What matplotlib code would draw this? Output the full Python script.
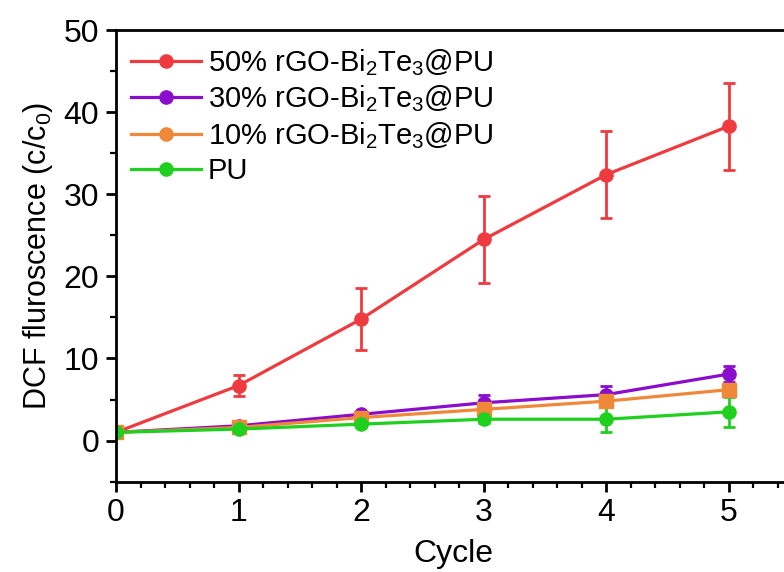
import matplotlib
matplotlib.use('Agg')
from matplotlib import pyplot as plt
from matplotlib.lines import Line2D

plt.rcParams['font.family'] = ['Liberation Sans', 'DejaVu Sans']
plt.rcParams['mathtext.fontset'] = 'custom'
plt.rcParams['mathtext.rm'] = 'Liberation Sans'
plt.rcParams['mathtext.it'] = 'Liberation Sans:italic'

cycles = [0, 1, 2, 3, 4, 5]

labels = ['50% rGO-Bi$_2$Te$_3$@PU', '30% rGO-Bi$_2$Te$_3$@PU',
          '10% rGO-Bi$_2$Te$_3$@PU', 'PU']
colors = ['#ef3b3f', '#8a0ccc', '#f0883a', '#1fd01f']
markers = ['o', 'o', 's', 'o']

rgo50 = [1.0, 6.7, 14.8, 24.5, 32.4, 38.3]
rgo50_err = [0.0, 1.3, 3.8, 5.3, 5.3, 5.3]
rgo30 = [1.0, 1.8, 3.2, 4.6, 5.6, 8.1]
rgo30_err = [0.0, 0.2, 0.3, 0.9, 1.0, 1.0]
rgo10 = [1.0, 1.6, 2.8, 3.8, 4.8, 6.2]
rgo10_err = [0.0, 0.2, 0.3, 0.5, 0.6, 0.6]
pu = [1.0, 1.4, 2.0, 2.6, 2.6, 3.5]
pu_err = [0.0, 0.2, 0.3, 0.5, 1.5, 1.8]

series = [(rgo50, rgo50_err), (rgo30, rgo30_err), (rgo10, rgo10_err), (pu, pu_err)]

fig = plt.figure(figsize=(7.84, 5.72), dpi=100)
ax = fig.add_axes([0.148, 0.158, 0.86, 0.7895])

for (y, e), c, m in zip(series, colors, markers):
    ax.errorbar(cycles, y, yerr=e, color=c, marker=m, markersize=9.5,
                linewidth=2.3, elinewidth=2, capsize=4, capthick=2)

ax.set_xlim(0, 5.5)
ax.set_ylim(-5, 50)
ax.set_xticks([0, 1, 2, 3, 4, 5])
ax.set_yticks([0, 10, 20, 30, 40, 50])
ax.set_xticks([i * 0.2 for i in range(28)], minor=True)
ax.set_yticks([-5, 5, 15, 25, 35, 45], minor=True)
ax.tick_params(which='major', direction='out', length=7, width=2, labelsize=23, pad=5)
ax.tick_params(which='minor', direction='out', length=4, width=1.6)
ax.tick_params(top=False, right=False, which='both')
for s in ['left', 'bottom', 'top']:
    ax.spines[s].set_linewidth(2)
ax.spines['right'].set_visible(False)

ax.set_xlabel('Cycle', fontsize=23, labelpad=8)
ax.set_ylabel('DCF fluroscence (c/c$_0$)', fontsize=22, labelpad=6)

handles = [Line2D([], [], color=c, marker='o', markersize=9.5, linewidth=2.3) for c in colors]
ax.legend(handles, labels, loc='upper left', frameon=False, fontsize=21,
          handlelength=2.4, handletextpad=0.25, labelspacing=0.2,
          borderaxespad=0.1, bbox_to_anchor=(0.0, 0.995))

fig.savefig('out.png', dpi=100)
